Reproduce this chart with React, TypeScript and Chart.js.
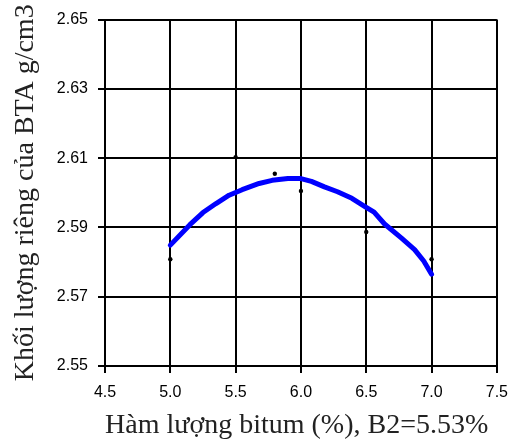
import React, { useEffect, useRef } from "react";
import { Chart, registerables } from "chart.js";

Chart.register(...registerables);

// Measured points
const pointX = [5.0, 5.5, 5.8, 6.0, 6.5, 7.0];
const pointY = [2.5808, 2.6103, 2.6055, 2.6005, 2.5887, 2.5808];

// Fitted curve
const curveX = [5.0, 5.15, 5.25, 5.35, 5.45, 5.55, 5.68, 5.78, 5.9, 6.0, 6.08, 6.18, 6.28, 6.39, 6.49, 6.56, 6.64, 6.77, 6.87, 6.94, 7.0];
const curveY = [2.5849, 2.5908, 2.5943, 2.5969, 2.5993, 2.6009, 2.6027, 2.6036, 2.6041, 2.6041, 2.6033, 2.6017, 2.6003, 2.5984, 2.596, 2.5944, 2.591, 2.5869, 2.5836, 2.5803, 2.5765];

const xTicks = [4.5, 5.0, 5.5, 6.0, 6.5, 7.0, 7.5];
const yTicks = [2.55, 2.57, 2.59, 2.61, 2.63, 2.65];

const xTitle = "Hàm lượng bitum (%), B2=5.53%";
const yTitle = "Khối lượng riêng của BTA g/cm3";

export default function App() {
  const ref = useRef<HTMLCanvasElement | null>(null);
  useEffect(() => {
    document.body.style.margin = "0";
    const canvas = ref.current!;
    const chart = new Chart(canvas, {
      type: "scatter",
      data: {
        datasets: [
          {
            type: "line",
            data: curveX.map((x, i) => ({ x, y: curveY[i] })),
            borderColor: "#0000ff",
            borderWidth: 5,
            pointRadius: 0,
            tension: 0,
            fill: false,
            borderCapStyle: "round",
            borderJoinStyle: "round",
          } as any,
          {
            data: pointX.map((x, i) => ({ x, y: pointY[i] })),
            backgroundColor: "#000",
            borderColor: "#000",
            pointRadius: 2.2,
            borderWidth: 0,
          },
        ],
      },
      options: {
        animation: false,
        responsive: false,
        devicePixelRatio: 1,
        layout: { padding: { top: 16, right: 18, left: 0, bottom: 0 } },
        plugins: { legend: { display: false }, tooltip: { enabled: false } },
        scales: {
          x: {
            type: "linear",
            min: 4.5,
            max: 7.5,
            afterBuildTicks: (s: any) => {
              s.ticks = xTicks.map((v) => ({ value: v }));
            },
            afterFit: (s: any) => {
              s.height = 79;
            },
            grid: { color: "#000", lineWidth: 2, tickLength: 7, drawTicks: true },
            border: { color: "#000", width: 2 },
            ticks: {
              color: "#000",
              padding: 10,
              maxRotation: 0,
              font: { family: "'Liberation Sans', Arial, sans-serif", size: 16 },
              callback: (v: any) => Number(v).toFixed(1),
            },
            title: {
              display: true,
              text: xTitle,
              align: "start",
              color: "#222",
              padding: { top: 0, bottom: 3 },
              font: { family: "'Liberation Serif', 'Times New Roman', serif", size: 28 },
            },
          },
          y: {
            type: "linear",
            min: 2.55,
            max: 2.65,
            afterBuildTicks: (s: any) => {
              s.ticks = yTicks.map((v) => ({ value: v }));
            },
            afterFit: (s: any) => {
              s.width = 105;
            },
            grid: { color: "#000", lineWidth: 2, tickLength: 7, drawTicks: true },
            border: { color: "#000", width: 2 },
            ticks: {
              color: "#000",
              padding: 10,
              font: { family: "'Liberation Sans', Arial, sans-serif", size: 16 },
              callback: (v: any) => Number(v).toFixed(2),
            },
            title: {
              display: true,
              text: yTitle,
              color: "#222",
              padding: { top: 9, bottom: 0 },
              font: { family: "'Liberation Serif', 'Times New Roman', serif", size: 28 },
            },
          },
        },
      },
    });
    return () => chart.destroy();
  }, []);
  return (
    <div style={{ position: "absolute", left: 0, top: 0, width: 518, height: 445 }}>
      <canvas ref={ref} width={518} height={445} />
    </div>
  );
}
